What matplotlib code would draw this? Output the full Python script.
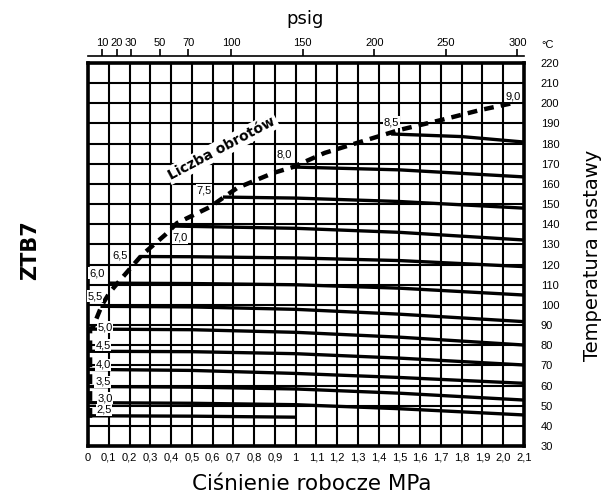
import numpy as np
import matplotlib
matplotlib.use('Agg')
from matplotlib import pyplot as plt

# pressure axis (MPa), temperature axis (degC)
x_ticks = [0.0, 0.1, 0.2, 0.3, 0.4, 0.5, 0.6, 0.7, 0.8, 0.9, 1.0,
           1.1, 1.2, 1.3, 1.4, 1.5, 1.6, 1.7, 1.8, 1.9, 2.0, 2.1]
x_labels = ['0', '0,1', '0,2', '0,3', '0,4', '0,5', '0,6', '0,7', '0,8', '0,9', '1',
            '1,1', '1,2', '1,3', '1,4', '1,5', '1,6', '1,7', '1,8', '1,9', '2,0', '2,1']
y_ticks = list(range(30, 230, 10))
psig_ticks = [10, 20, 30, 50, 70, 100, 150, 200, 250, 300]
PSI_TO_MPA = 0.006895

# set-temperature curves, one per number of turns
curve_names = ['2,5', '3,0', '3,5', '4,0', '4,5', '5,0', '5,5', '6,0',
               '6,5', '7,0', '7,5', '8,0', '8,5']
curve_x = [
    [0.0, 0.5, 1.0],
    [0.0, 0.5, 1.0, 1.5, 2.1],
    [0.0, 0.5, 1.0, 1.5, 2.1],
    [0.0, 0.5, 1.0, 1.5, 2.1],
    [0.0, 0.5, 1.0, 1.5, 2.1],
    [0.0, 0.5, 1.0, 1.5, 2.1],
    [0.06, 0.5, 1.0, 1.5, 2.1],
    [0.1, 0.5, 1.0, 1.5, 2.1],
    [0.25, 0.5, 1.0, 1.5, 2.1],
    [0.42, 1.0, 1.5, 2.1],
    [0.65, 1.0, 1.5, 2.1],
    [0.99, 1.5, 2.1],
    [1.46, 1.8, 2.1],
]
curve_y = [
    [45.0, 44.8, 44.3],
    [51.5, 51.2, 50.5, 48.5, 45.4],
    [59.5, 59.2, 58.3, 56.2, 52.8],
    [68.0, 67.5, 66.0, 64.0, 61.1],
    [77.0, 76.8, 75.8, 73.6, 70.2],
    [88.0, 87.7, 86.4, 84.0, 80.1],
    [99.3, 99.0, 97.8, 95.4, 91.7],
    [110.8, 110.6, 110.0, 108.3, 104.9],
    [124.0, 123.9, 123.3, 122.0, 119.0],
    [139.1, 138.0, 136.0, 132.2],
    [153.5, 153.0, 151.3, 148.0],
    [168.4, 167.0, 163.5],
    [184.8, 183.5, 180.8],
]

# "Liczba obrotow" dashed line
turns_x = [0.01, 0.01, 0.024, 0.067, 0.106, 0.164, 0.26, 0.371, 0.429, 0.588,
           0.718, 0.891, 0.987, 1.14, 1.31, 1.50, 1.70, 1.89, 2.05]
turns_y = [44.0, 88.0, 89.0, 99.9, 106.4, 113.4, 124.8, 134.7, 140.6, 148.6,
           158.0, 165.4, 168.4, 175.4, 180.8, 186.8, 191.7, 196.7, 200.2]

# label positions of the turn numbers
label_names = ['9,0', '8,5', '8,0', '7,5', '7,0', '6,5', '6,0', '5,5',
               '5,0', '4,5', '4,0', '3,5', '3,0', '2,5']
label_x = [2.047, 1.46, 0.944, 0.559, 0.443, 0.154, 0.043, 0.034,
           0.082, 0.072, 0.072, 0.072, 0.082, 0.077]
label_y = [203.5, 190.7, 174.4, 157.0, 133.2, 124.3, 115.8, 104.4,
           89.0, 80.1, 70.2, 61.8, 53.8, 47.9]

narrow = ['Liberation Sans', 'DejaVu Sans']
small = 8

fig = plt.figure(figsize=(6.15, 4.97), dpi=100)
ax = fig.add_axes([0.1431, 0.1026, 0.7089, 0.7706])
ax.set_xlim(0, 2.1)
ax.set_ylim(30, 220)

ax.set_xticks(x_ticks)
ax.set_xticklabels(x_labels)
ax.set_yticks(y_ticks)
ax.set_yticklabels([str(v) for v in y_ticks])
ax.yaxis.tick_right()
ax.tick_params(axis='both', labelsize=small, labelfontfamily=narrow)
ax.tick_params(axis='x', length=0, pad=5)
ax.tick_params(axis='y', length=0, pad=12)
ax.grid(True, color='black', lw=1.5, zorder=1)
ax.set_axisbelow(True)
for sp in ax.spines.values():
    sp.set_linewidth(2.6)

for name, xs, ys in zip(curve_names, curve_x, curve_y):
    ax.plot(xs, ys, color='black', lw=2.4, solid_capstyle='butt', zorder=3)

ax.plot(turns_x, turns_y, color='black', lw=3.2, dashes=(2.2, 1.6), zorder=4)

for name, lx, ly in zip(label_names, label_x, label_y):
    ax.text(lx, ly, name, family=narrow, fontsize=small, ha='center', va='center',
            zorder=6, bbox=dict(facecolor='white', edgecolor='none', pad=0.6))

ax.text(0.645, 177.8, 'Liczba obrotów', fontsize=10, fontweight='bold', rotation=28,
        ha='center', va='center', rotation_mode='anchor', zorder=6,
        bbox=dict(facecolor='white', edgecolor='none', pad=1.5))

# top psig scale
ax2 = ax.twiny()
ax2.set_xlim(0, 2.1)
ax2.set_xticks([p * PSI_TO_MPA for p in psig_ticks])
ax2.set_xticklabels([str(p) for p in psig_ticks])
ax2.spines['top'].set_position(('outward', 5))
ax2.spines['top'].set_linewidth(1.2)
for s in ['left', 'right', 'bottom']:
    ax2.spines[s].set_visible(False)
ax2.tick_params(axis='x', direction='out', length=5, width=1.2, pad=1,
                labelsize=small, labelfontfamily=narrow)

fig.text(0.496, 0.962, 'psig', fontsize=13, ha='center', va='center')
fig.text(0.891, 0.909, '°C', family=narrow, fontsize=small, ha='center', va='center')
fig.text(0.507, 0.026, 'Ciśnienie robocze MPa', fontsize=15.5, ha='center', va='center')
fig.text(0.964, 0.487, 'Temperatura nastawy', fontsize=14, rotation=90,
         ha='center', va='center')
fig.text(0.049, 0.497, 'ZTB7', fontsize=15, fontweight='bold', rotation=90,
         ha='center', va='center')

fig.savefig('out.png', dpi=100)
